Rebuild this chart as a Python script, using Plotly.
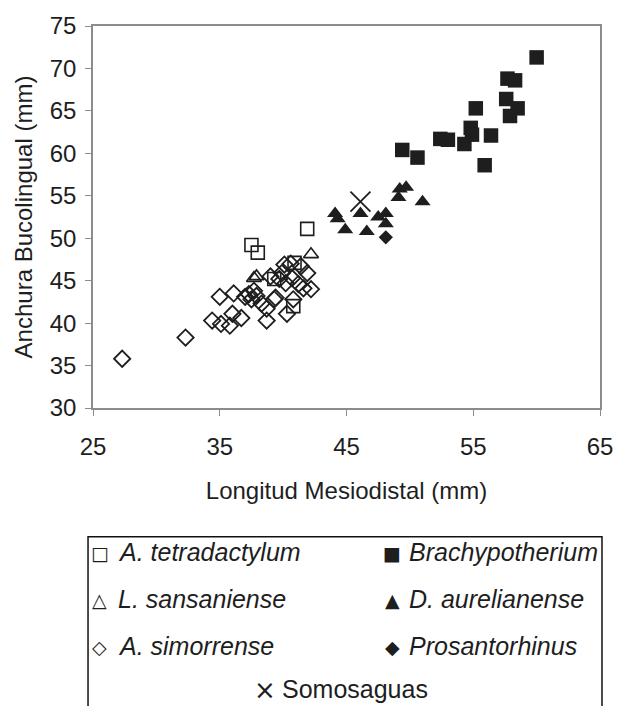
import plotly.graph_objects as go

# ---------------- data ----------------
tetra_x = [41.9, 37.5, 38.0, 40.9, 39.3, 40.8]
tetra_y = [51.1, 49.2, 48.3, 47.1, 45.2, 42.0]

sans_x = [42.2, 37.7, 37.9]
sans_y = [48.1, 45.3, 45.5]

simor_x = [27.3, 32.3, 34.4, 35.0, 35.1, 35.8, 36.0, 36.1, 36.7, 37.0, 37.3,
           37.7, 37.9, 37.5, 38.3, 38.7, 38.7, 39.3, 39.0, 39.7, 40.2, 40.7,
           41.2, 41.6, 42.2, 40.1, 40.6, 41.4, 41.9, 39.9, 40.3, 40.8, 39.4]
simor_y = [35.8, 38.3, 40.3, 43.1, 39.9, 39.7, 41.1, 43.5, 40.6, 43.1, 43.4,
           43.8, 43.2, 42.8, 42.3, 41.7, 40.3, 42.8, 45.5, 45.2, 44.7, 45.3,
           44.6, 44.1, 44.0, 46.9, 47.0, 46.7, 45.9, 45.9, 41.1, 42.8, 43.0]

brachy_x = [60.0, 57.7, 58.3, 57.6, 58.5, 57.9, 55.2, 54.8, 54.9, 54.3, 56.4,
            52.4, 53.0, 55.9, 49.4, 50.6]
brachy_y = [71.3, 68.8, 68.6, 66.4, 65.3, 64.4, 65.3, 63.0, 62.2, 61.1, 62.1,
            61.7, 61.6, 58.6, 60.4, 59.5]

aurel_x = [44.1, 44.3, 44.9, 46.1, 46.6, 47.5, 48.1, 48.1, 49.2, 49.7, 49.1, 51.0]
aurel_y = [52.9, 52.3, 51.0, 52.9, 50.8, 52.5, 52.9, 51.7, 55.8, 56.0, 54.8, 54.3]

prosan_x = [48.1]
prosan_y = [50.1]

somo_x = [46.1]
somo_y = [54.3]

x_ticks = [25, 35, 45, 55, 65]
y_ticks = [30, 35, 40, 45, 50, 55, 60, 65, 70, 75]

legend_names = ["A. tetradactylum", "Brachypotherium", "L. sansaniense",
                "D. aurelianense", "A. simorrense", "Prosantorhinus", "Somosaguas"]
legend_glyphs = ["\u25A1", "\u25A0", "\u25B3", "\u25B2", "\u25C7", "\u25C6", "\u00D7"]
legend_italic = [True, True, True, True, True, True, False]

# ---------------- figure ----------------
INK = "#1e1e1e"
FONT = "Liberation Sans, Arial, sans-serif"

fig = go.Figure()

def add(x, y, symbol, size, lw=1.6, name=""):
    fig.add_trace(go.Scatter(
        x=x, y=y, mode="markers", name=name, showlegend=False,
        marker=dict(symbol=symbol, size=size, color=INK,
                    line=dict(color=INK, width=lw)),
    ))

add(simor_x, simor_y, "diamond-open", 12.5, 1.8, "A. simorrense")
add(tetra_x, tetra_y, "square-open", 13, 1.6, "A. tetradactylum")
add(sans_x, sans_y, "triangle-up-open", 13, 1.6, "L. sansaniense")
add(brachy_x, brachy_y, "square", 14.5, 0, "Brachypotherium")
add(aurel_x, aurel_y, "triangle-up", 14, 0, "D. aurelianense")
add(prosan_x, prosan_y, "diamond", 11, 0, "Prosantorhinus")
add(somo_x, somo_y, "x-thin", 20, 1.8, "Somosaguas")

AX = "#8c8c8c"
fig.update_xaxes(
    range=[25, 65], tickvals=x_ticks, ticktext=[str(v) for v in x_ticks],
    showline=True, mirror=True, linecolor=AX, linewidth=1.5,
    ticks="outside", ticklen=6, tickcolor=AX, tickwidth=1,
    showgrid=False, zeroline=False, ticklabelstandoff=10,
    tickfont=dict(size=24, color=INK, family=FONT),
    title=dict(text="Longitud Mesiodistal (mm)", standoff=24,
               font=dict(size=24, color=INK, family=FONT)),
)
fig.update_yaxes(
    range=[30, 75], tickvals=y_ticks, ticktext=[str(v) for v in y_ticks],
    showline=True, mirror=True, linecolor=AX, linewidth=1.5,
    ticks="outside", ticklen=6, tickcolor=AX, tickwidth=1,
    showgrid=False, zeroline=False, ticklabelstandoff=4,
    tickfont=dict(size=24, color=INK, family=FONT),
    title=dict(text="Anchura Bucolingual (mm)", standoff=10,
               font=dict(size=24, color=INK, family=FONT)),
)

# ---------------- custom legend box ----------------
L, R, T, B = 93, 603, 22, 408   # plot area pixel bounds
def px_x(p):
    return (p - L) / (R - L)
def px_y(p):
    return (B - p) / (B - T)

fig.add_shape(type="rect", xref="paper", yref="paper",
              x0=px_x(88), x1=px_x(605), y0=px_y(538), y1=px_y(712),
              line=dict(color="#111111", width=1.5), fillcolor="rgba(0,0,0,0)")

rows = [554, 601, 648, 692]
cols_marker = [100, 394]
cols_text = [116, 409]
for i, (name, glyph, ital) in enumerate(zip(legend_names, legend_glyphs, legend_italic)):
    if i < 6:
        r, c = divmod(i, 2)
        gx, tx, yy = cols_marker[c], cols_text[c], rows[r]
    else:
        gx, tx, yy = 266, 281, rows[3]
    gsize = 26 if glyph == "\u00D7" else 19
    fig.add_annotation(xref="paper", yref="paper", x=px_x(gx), y=px_y(yy + 1),
                       text=glyph, showarrow=False, xanchor="center", yanchor="middle",
                       font=dict(size=gsize, color=INK, family="DejaVu Sans"))
    label = f"<i>{name}</i>" if ital else name
    fig.add_annotation(xref="paper", yref="paper", x=px_x(tx), y=px_y(yy),
                       text=label, showarrow=False, xanchor="left", yanchor="middle",
                       font=dict(size=25, color=INK, family=FONT))

fig.update_layout(
    width=625, height=706,
    margin=dict(l=L, r=625 - R, t=T, b=706 - B, pad=0),
    paper_bgcolor="white", plot_bgcolor="white",
    font=dict(family=FONT, color=INK),
)

fig.write_html("out.html")
